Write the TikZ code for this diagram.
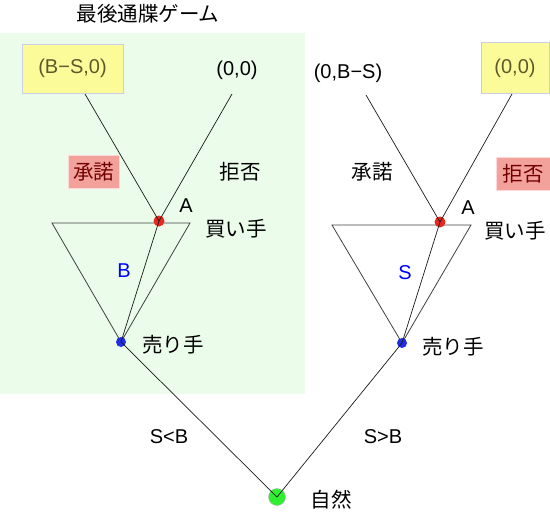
\documentclass[tikz,border=0pt]{standalone}
\usepackage{fontspec}
\setmainfont{Liberation Sans}
\newfontfamily\jpfont{Noto Sans CJK JP}
\usetikzlibrary{positioning}

\definecolor{mint}{HTML}{EBFCEB}
\definecolor{lemon}{HTML}{FBFB9A}
\definecolor{salmon}{HTML}{F3A29B}
\definecolor{rim}{HTML}{CCCCE4}
\definecolor{dotred}{HTML}{E8281E}
\definecolor{dotblue}{HTML}{2030E0}
\definecolor{dotgreen}{HTML}{30EE30}

\begin{document}
\begin{tikzpicture}[x=1pt,y=-1pt,every node/.style={font=\fontsize{20pt}{24pt}\selectfont}]
\tikzstyle{ja}=[font=\jpfont\fontsize{20.5pt}{24pt}\selectfont]
\tikzstyle{dot}=[circle, inner sep=0pt, minimum size=11pt]
\tikzstyle{edge}=[draw=black!90, line width=0.7pt]
\tikzstyle{tri}=[draw=black!75, line width=0.8pt]
\tikzstyle{payoff}=[rectangle, draw=rim, line width=1pt, fill=lemon, text=olive!55!black]
\tikzstyle{choice}=[ja, rectangle, draw=pink!60, line width=1pt, fill=salmon, text=red!45!black, minimum height=33pt, inner sep=2pt]
  \useasboundingbox (0,0) rectangle (550,512);
  \fill[mint] (0,33) rectangle (305,394);

  \node[ja] (title) at (148,14) {最後通牒ゲーム};

  % left: S<B
  \node[payoff, minimum width=101pt, minimum height=49pt] (payBS) at (72.5,68.5) {(B−S,0)};
  \node (payL) at (237,70) {(0,0)};
  \coordinate (endBS) at (85,94);
  \coordinate (endL) at (232,94);
  \node[choice, minimum width=51pt] (acceptL) at (93.5,171.5) {承諾};
  \node[ja] (rejectL) at (240,172) {拒否};
  \draw[tri] (52,223) coordinate (triL1) -- (190,223) coordinate (triL2) -- (121,342) -- cycle;
  \node[dot, fill=dotred] (buyerL) at (159,221) {};
  \node[dot, fill=dotblue, minimum size=10pt] (sellerL) at (121,342) {};
  \node (AL) at (186,206) {A};
  \node[ja] (buyL) at (236,229) {買い手};
  \node[text=blue] (valB) at (124,271) {B};
  \node[ja] (sellL) at (173,345) {売り手};

  % right: S>B
  \node (payR) at (348,73) {(0,B−S)};
  \node[payoff, minimum width=68pt, minimum height=51pt] (pay00) at (515,68) {(0,0)};
  \coordinate (endR) at (366,95);
  \coordinate (end00) at (512,94);
  \node[ja] (acceptR) at (372,172) {承諾};
  \node[choice, minimum width=54pt] (rejectR) at (523,173.5) {拒否};
  \draw[tri] (332,225) coordinate (triR1) -- (471,225) coordinate (triR2) -- (402,343) -- cycle;
  \node[dot, fill=dotred] (buyerR) at (440,222) {};
  \node[dot, fill=dotblue, minimum size=10pt] (sellerR) at (402,343) {};
  \node (AR) at (468,208) {A};
  \node[ja] (buyR) at (515,231) {買い手};
  \node[text=blue] (valS) at (405,273) {S};
  \node[ja] (sellR) at (453,347) {売り手};

  % nature
  \node[dot, fill=dotgreen, draw=gray!60, minimum size=17pt] (nature) at (277,497) {};
  \node[ja] (natureL) at (331,500) {自然};
  \node (lt) at (169,437) {S<B};
  \node (gt) at (383,437) {S>B};

  \path (buyerL.center) edge [edge] (endBS)
        (buyerL.center) edge [edge] (endL)
        (buyerL.center) edge [edge] (sellerL.center)
        (sellerL.center) edge [edge] (nature.center)
        (buyerR.center) edge [edge] (endR)
        (buyerR.center) edge [edge] (end00)
        (buyerR.center) edge [edge] (sellerR.center)
        (sellerR.center) edge [edge] (nature.center);
\end{tikzpicture}
\end{document}
